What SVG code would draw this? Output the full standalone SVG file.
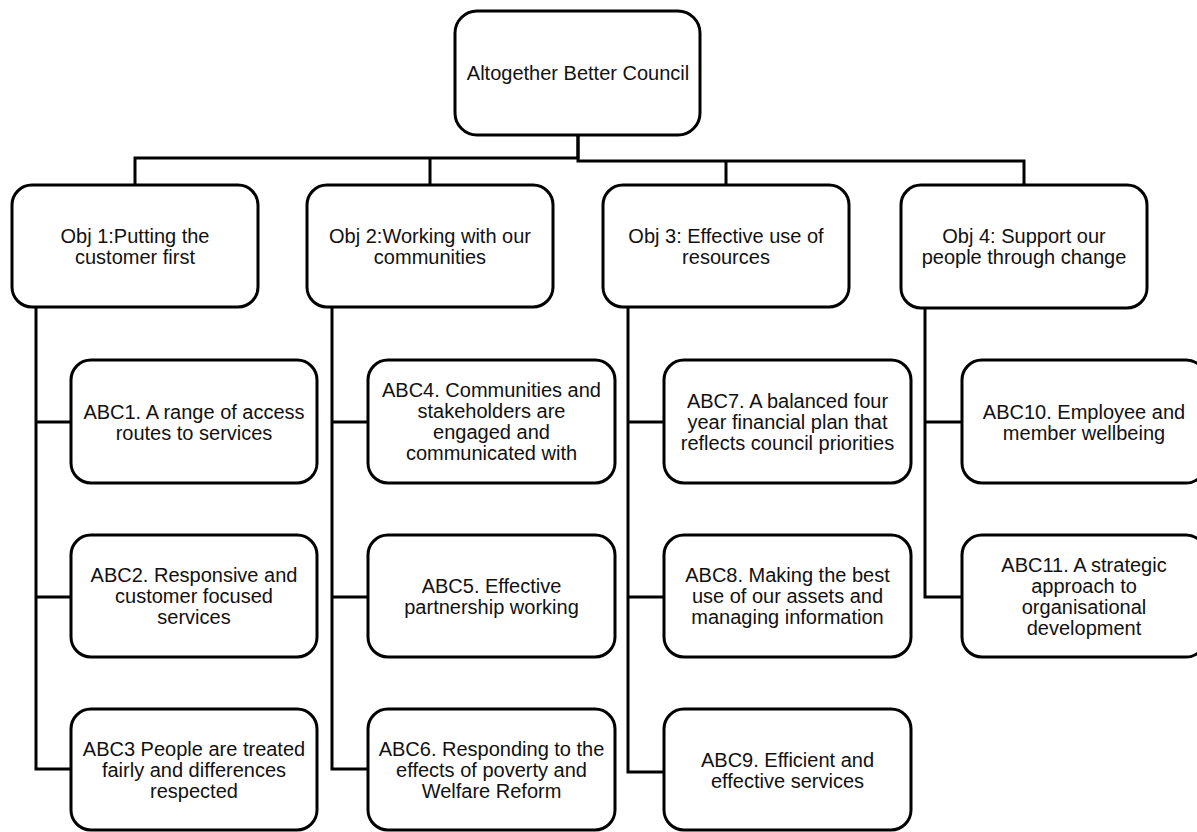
<svg xmlns="http://www.w3.org/2000/svg" width="1197" height="832" viewBox="0 0 1197 832">
<style>
.box{fill:#fff;stroke:#000;stroke-width:3}
.t{font-family:"Liberation Sans",Arial,sans-serif;font-size:20px;fill:#111;text-anchor:middle}
.c{fill:none;stroke:#000;stroke-width:3;stroke-linejoin:miter}
</style>
<rect width="1197" height="832" fill="#fff"/>
<g id="connectors" class="c">
<path d="M135,185 V158 H578 V135"/>
<path d="M578,135 V161 H1024 V185"/>
<path d="M430,158 V185"/>
<path d="M726,161 V185"/>
<path d="M36,307 V769 H71 M36,422 H71 M36,597 H71"/>
<path d="M332,307 V769 H368 M332,422 H368 M332,597 H368"/>
<path d="M628,307 V772 H664 M628,422 H664 M628,597 H664"/>
<path d="M925,309 V597 H962 M925,422 H962"/>
</g>
<g id="root"><rect class="box" x="455" y="11" width="245" height="124" rx="22"/><text class="t" x="578" y="80">Altogether Better Council</text></g>
<g id="obj1"><rect class="box" x="12" y="185" width="246" height="122" rx="20"/><text class="t" x="135" y="242.5">Obj 1:Putting the<tspan x="135" dy="21">customer first</tspan></text></g>
<g id="obj2"><rect class="box" x="307" y="185" width="246" height="122" rx="20"/><text class="t" x="430" y="242.5">Obj 2:Working with our<tspan x="430" dy="21">communities</tspan></text></g>
<g id="obj3"><rect class="box" x="603" y="185" width="246" height="122" rx="20"/><text class="t" x="726" y="242.5">Obj 3: Effective use of<tspan x="726" dy="21">resources</tspan></text></g>
<g id="obj4"><rect class="box" x="901" y="185" width="246" height="123" rx="20"/><text class="t" x="1024" y="243">Obj 4: Support our<tspan x="1024" dy="21">people through change</tspan></text></g>
<g id="abc1"><rect class="box" x="71" y="360" width="246" height="123" rx="20"/><text class="t" x="194" y="418.5">ABC1. A range of access<tspan x="194" dy="21">routes to services</tspan></text></g>
<g id="abc2"><rect class="box" x="71" y="535" width="246" height="122" rx="20"/><text class="t" x="194" y="582">ABC2. Responsive and<tspan x="194" dy="21">customer focused</tspan><tspan x="194" dy="21">services</tspan></text></g>
<g id="abc3"><rect class="box" x="71" y="709" width="246" height="121" rx="20"/><text class="t" x="194" y="756">ABC3 People are treated<tspan x="194" dy="21">fairly and differences</tspan><tspan x="194" dy="21">respected</tspan></text></g>
<g id="abc4"><rect class="box" x="368" y="360" width="247" height="123" rx="20"/><text class="t" x="491.5" y="397">ABC4. Communities and<tspan x="491.5" dy="21">stakeholders are</tspan><tspan x="491.5" dy="21">engaged and</tspan><tspan x="491.5" dy="21">communicated with</tspan></text></g>
<g id="abc5"><rect class="box" x="368" y="535" width="247" height="122" rx="20"/><text class="t" x="491.5" y="592.5">ABC5. Effective<tspan x="491.5" dy="21">partnership working</tspan></text></g>
<g id="abc6"><rect class="box" x="368" y="709" width="247" height="121" rx="20"/><text class="t" x="491.5" y="756">ABC6. Responding to the<tspan x="491.5" dy="21">effects of poverty and</tspan><tspan x="491.5" dy="21">Welfare Reform</tspan></text></g>
<g id="abc7"><rect class="box" x="664" y="360" width="247" height="123" rx="20"/><text class="t" x="787.5" y="408">ABC7. A balanced four<tspan x="787.5" dy="21">year financial plan that</tspan><tspan x="787.5" dy="21">reflects council priorities</tspan></text></g>
<g id="abc8"><rect class="box" x="664" y="535" width="247" height="122" rx="20"/><text class="t" x="787.5" y="582">ABC8. Making the best<tspan x="787.5" dy="21">use of our assets and</tspan><tspan x="787.5" dy="21">managing information</tspan></text></g>
<g id="abc9"><rect class="box" x="664" y="709" width="247" height="121" rx="20"/><text class="t" x="787.5" y="767">ABC9. Efficient and<tspan x="787.5" dy="21">effective services</tspan></text></g>
<g id="abc10"><rect class="box" x="962" y="360" width="244" height="123" rx="20"/><text class="t" x="1084" y="418.5">ABC10. Employee and<tspan x="1084" dy="21">member wellbeing</tspan></text></g>
<g id="abc11"><rect class="box" x="962" y="535" width="244" height="122" rx="20"/><text class="t" x="1084" y="571.5">ABC11. A strategic<tspan x="1084" dy="21">approach to</tspan><tspan x="1084" dy="21">organisational</tspan><tspan x="1084" dy="21">development</tspan></text></g>
</svg>
